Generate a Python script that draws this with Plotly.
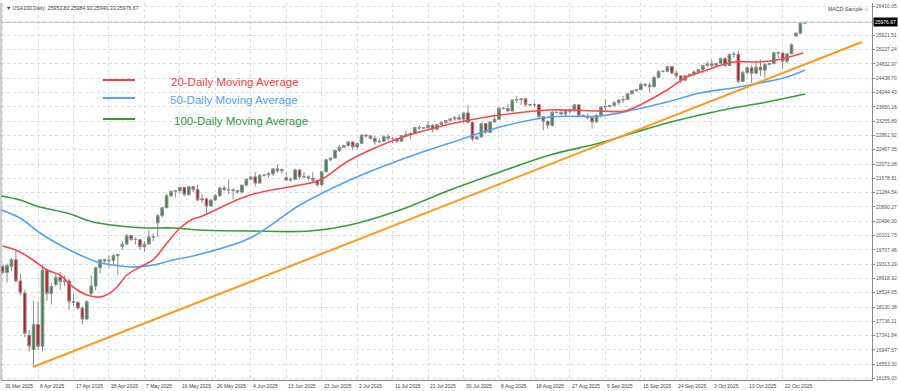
import pandas as pd
import plotly.graph_objects as go

# ---------------- data ----------------
# broker daily bars: weekdays plus short Sunday bars, no Good Friday bar
dates = [d for d in pd.date_range("2025-03-30", "2025-10-28")
         if d.weekday() != 5 and d != pd.Timestamp("2025-04-18")]

opens = [19250,19080,19250,19436,18850,18520,17350,16950,17650,17050,
         19145,18500,18750,18950,18830,18850,18280,18260,18100,17800,
         18500,18711,19213,19432,19400,19420,19545,19800,19864,20102,
         19990,19992,19792,19867,20064,20450,20650,20868,21197,21319,
         21336,21427,21230,21447,21367,21080,21112,20915,21080,21200,
         21413,21363,21364,21340,21300,21492,21655,21718,21547,21761,
         21770,21800,21941,21883,21700,21631,21650,21911,21719,21719,
         21680,21626,21500,21859,22191,22238,22447,22534,22580,22679,
         22541,22641,22867,22850,22780,22686,22701,22830,22781,22780,
         22700,22856,22884,22916,23077,23065,23070,23140,23033,23162,
         23219,23272,23320,23357,23308,23480,23218,22763,22820,23188,
         22946,23233,23306,23613,23600,23535,23839,23850,23871,23713,
         23700,23713,23384,23250,23142,23498,23490,23451,23526,23566,
         23704,23415,23400,23350,23232,23415,23648,23653,23690,23762,
         23839,23850,24007,24092,24120,24275,24251,24202,24454,24626,
         24630,24762,24580,24503,24385,24504,24550,24612,24680,24791,
         24836,24785,24850,24979,24788,25099,25098,24350,24600,24726,
         24578,24745,24661,24818,24840,25142,25134,24907,25110,25600,
         25680,25953.80]
highs = [19290,19330,19480,19720,19050,18600,17500,18300,18300,19300,
         19200,18800,19050,19100,19000,18900,18500,18280,18150,18320,
         19000,19250,19450,19460,19550,19600,19600,19950,20150,20110,
         20050,19995,19950,20250,20150,20700,20900,21250,21350,21350,
         21450,21430,21470,21460,21500,21250,21150,21100,21250,21450,
         21480,21650,21400,21350,21500,21680,21750,21850,21800,21790,
         21850,21950,22050,21950,21850,21700,21950,21920,21850,21760,
         21850,21640,21880,22220,22270,22470,22600,22600,22700,22700,
         22650,22900,22900,22860,22850,22780,22870,22900,22800,22790,
         22880,22990,22950,23100,23150,23090,23250,23170,23170,23240,
         23280,23330,23380,23450,23500,23700,23250,22850,23200,23200,
         23250,23450,23630,23640,23720,23850,23950,23890,23880,23730,
         23760,23720,23400,23280,23550,23520,23550,23550,23600,23720,
         23710,23440,23470,23400,23450,23650,23850,23700,23800,23850,
         23950,24030,24100,24130,24290,24300,24330,24500,24650,24650,
         24780,24790,24650,24510,24520,24560,24650,24700,24800,24900,
         24950,24860,25000,25020,25110,25170,25200,24650,24780,24800,
         24900,24950,24850,24860,25150,25180,25150,25120,25400,25700,
         25990,25984.93]
lows = [19050,18810,19120,18800,18450,17300,16900,16500,16950,16900,
        18300,18200,18700,18600,18700,18050,18150,18050,17650,17780,
        18450,18600,19050,19350,19200,19300,19000,19700,19850,19950,
        19850,19700,19650,19860,19950,20060,20600,20850,21150,21150,
        21250,21180,21200,21300,21050,21000,20700,20900,21050,21150,
        21330,21250,21100,21250,21250,21450,21650,21450,21540,21720,
        21700,21750,21820,21800,21600,21580,21640,21650,21680,21620,
        21550,21450,21450,21850,22150,22230,22400,22520,22550,22450,
        22480,22640,22800,22750,22600,22650,22690,22700,22650,22650,
        22680,22840,22750,22900,23020,23040,23060,22950,23000,23150,
        23170,23260,23270,23280,23200,23200,22700,22740,22800,22900,
        22920,23200,23300,23580,23500,23520,23750,23700,23650,23680,
        23640,23300,23000,23050,23100,23470,23420,23380,23450,23500,
        23380,23380,23300,23050,23220,23350,23550,23640,23650,23700,
        23750,23840,23990,24080,24110,24200,24050,24200,24450,24600,
        24600,24550,24450,24300,24350,24500,24500,24550,24570,24750,
        24700,24780,24830,24750,24780,25000,24300,24340,24550,24300,
        24550,24500,24450,24800,24830,25000,24700,24850,25100,25590,
        25650,25940.33]
closes = [19080,19278,19436,18850,18520,17400,17050,17650,17050,19145,
          18500,18700,18950,18830,18850,18280,18260,18100,17800,18276,
          18711,19213,19432,19400,19420,19545,19571,19864,20102,19990,
          19992,19792,19867,20064,20062,20650,20868,21197,21319,21336,
          21427,21230,21447,21367,21080,21112,20915,21080,21200,21413,
          21363,21364,21340,21300,21492,21655,21718,21547,21761,21770,
          21800,21941,21883,21914,21631,21650,21911,21719,21719,21680,
          21626,21500,21859,22191,22238,22447,22534,22580,22679,22541,
          22641,22867,22850,22780,22686,22701,22830,22781,22780,22700,
          22856,22884,22916,23077,23065,23070,23140,23033,23162,23219,
          23272,23320,23357,23308,23480,23218,22763,22820,23188,22946,
          23233,23306,23613,23600,23535,23839,23850,23871,23713,23700,
          23713,23384,23250,23142,23498,23490,23451,23526,23566,23704,
          23415,23400,23350,23232,23415,23648,23653,23690,23762,23839,
          23850,24007,24092,24120,24275,24251,24202,24454,24626,24630,
          24762,24580,24503,24385,24504,24550,24612,24680,24791,24836,
          24785,24850,24979,24788,25099,25098,24350,24600,24726,24578,
          24745,24661,24818,24840,25142,25134,24907,25110,25358,25680,
          25950,25976.67]

# moving averages (bar index, price)
ma20_idx = [0,2.35,3.93,6.86,10.02,12.95,15.88,19.04,21.98,24.23,25.81,28.07,31.0,33.94,37.09,40.03,42.96,44.54,
            55.82,67.1,71.62,78.38,89.67,100.95,105.46,112.23,123.51,134.79,140.43,143.82,149.91,154.42,158.93,164.8,
            170.21,174.72,180.6]
ma20_val = [19813,19730,19647,19427,19151,19013,18682,18462,18407,18517,18682,19013,19234,19427,19895,20309,20557,20612,
            21218,21494,21632,22183,22790,23176,23286,23424,23562,23534,23534,23700,24113,24472,24665,24885,
            24885,24940,25133]
ma50_idx = [-0.3,3.93,8.44,12.95,17.46,21.3,24.91,29.42,33.94,38.45,42.96,55.82,67.1,78.38,89.67,100.95,112.23,
            123.51,134.79,142.24,149.91,157.36,164.8,170.9,176.99,181.05]
ma50_val = [20805,20584,20171,19840,19564,19371,19289,19234,19289,19427,19537,20033,20943,21632,22183,22652,23093,
            23369,23397,23562,23782,24030,24168,24306,24472,24665]
ma100_idx = [-0.3,3.93,8.44,14.53,20.4,26.49,32.58,38.45,44.54,55.82,69.36,78.38,89.67,100.95,112.23,123.51,
             134.79,142.24,149.91,157.36,164.8,172.47,181.05]
ma100_val = [21191,21080,20887,20722,20474,20364,20309,20309,20253,20226,20226,20391,20805,21356,21853,22321,
             22652,22928,23203,23424,23617,23782,24003]

trend_idx = [6.86, 193.9]
trend_val = [16476, 25437]

x_labels = ["30 Mar 2025","8 Apr 2025","17 Apr 2025","28 Apr 2025","7 May 2025","16 May 2025",
            "26 May 2025","4 Jun 2025","13 Jun 2025","23 Jun 2025","2 Jul 2025","11 Jul 2025",
            "21 Jul 2025","30 Jul 2025","8 Aug 2025","18 Aug 2025","27 Aug 2025","5 Sep 2025",
            "15 Sep 2025","24 Sep 2025","3 Oct 2025","13 Oct 2025","22 Oct 2025"]
y_tick_start = 16159.03
y_tick_step = 394.27
y_tick_count = 27

legend_names = ["20-Daily Moving Average", "50-Daily Moving Average", "100-Daily Moving Average"]
legend_colors = ["#ff3b3b", "#4da3ff", "#2f9a35"]

# ---------------- figure ----------------
n = min(len(dates), len(opens), len(highs), len(lows), len(closes))
idx = list(range(n))
label_pos = {d.strftime("%-d %b %Y"): i for i, d in enumerate(dates[:n])}
x_tick_pos = [label_pos.get(t, 0) for t in x_labels]

fig = go.Figure()
fig.add_trace(go.Candlestick(
    x=idx, open=opens[:n], high=highs[:n], low=lows[:n], close=closes[:n],
    increasing=dict(line=dict(color="#8e8e8e", width=1), fillcolor="#3a8a48"),
    decreasing=dict(line=dict(color="#8e8e8e", width=1), fillcolor="#c4161c"),
    whiskerwidth=0, showlegend=False, hoverinfo="skip"))

fig.add_trace(go.Scatter(x=ma100_idx, y=ma100_val, mode="lines", line_shape="spline",
                         line=dict(color="#35a03a", width=1.6), showlegend=False))
fig.add_trace(go.Scatter(x=ma50_idx, y=ma50_val, mode="lines", line_shape="spline",
                         line=dict(color="#4da3ff", width=1.6), showlegend=False))
fig.add_trace(go.Scatter(x=ma20_idx, y=ma20_val, mode="lines", line_shape="spline",
                         line=dict(color="#ff4646", width=1.6), showlegend=False))
fig.add_trace(go.Scatter(x=trend_idx, y=trend_val, mode="lines",
                         line=dict(color="#ff9a1a", width=2), showlegend=False))

ytv = [y_tick_start + k * y_tick_step for k in range(y_tick_count)]
fig.update_layout(
    width=900, height=391, margin=dict(l=1, r=28, t=3, b=11, autoexpand=False),
    paper_bgcolor="white", plot_bgcolor="white", boxgap=0.15,
    font=dict(family="Liberation Sans, Arial", color="#333"),
    xaxis=dict(range=[-0.36, 196.16], tickvals=x_tick_pos, ticktext=[""] * len(x_labels),
               showgrid=True, gridcolor="#d6deea", griddash="dot", gridwidth=1,
               rangeslider=dict(visible=False), showline=True, linecolor="#8a8a8a",
               linewidth=1, mirror=False, zeroline=False, ticks="", automargin=False),
    yaxis=dict(range=[16118, 26512], side="right", tickvals=ytv,
               ticktext=[f"{v:.2f}" for v in ytv], tickfont=dict(size=5, color="#555"),
               showgrid=True, gridcolor="#d6deea", griddash="dot", gridwidth=1,
               showline=True, linecolor="#8a8a8a", linewidth=1, zeroline=False,
               ticks="outside", ticklen=2, tickcolor="#8a8a8a", automargin=False),
)
# left border
fig.add_shape(type="line", xref="paper", yref="paper", x0=0, x1=0, y0=0, y1=1,
              line=dict(color="#9a9a9a", width=1))
# bid line
fig.add_shape(type="line", xref="paper", yref="y", x0=0, x1=1, y0=closes[n - 1], y1=closes[n - 1],
              line=dict(color="#c8c8c8", width=1))
fig.add_annotation(xref="paper", yref="y", x=1, xshift=1, y=closes[n - 1], xanchor="left", yanchor="middle",
                   text=f"{closes[n - 1]:.2f}", showarrow=False, bgcolor="#000000",
                   font=dict(size=5, color="white"), borderpad=1)

# x labels
for t, p in zip(x_labels, x_tick_pos):
    fig.add_annotation(xref="x", yref="paper", x=p, y=0, yshift=-1, xanchor="left", yanchor="top",
                       text=t, showarrow=False, font=dict(size=5, color="#444"))

# header texts
fig.add_annotation(xref="paper", yref="paper", x=0.003, y=1, yshift=0, xanchor="left", yanchor="top",
                   text=f"▼ USA100,Daily  {opens[n-1]:.2f} {highs[n-1]:.2f} {lows[n-1]:.2f} {closes[n-1]:.2f}",
                   showarrow=False, font=dict(size=5.2, color="#444"))
fig.add_annotation(xref="paper", yref="paper", x=0.9985, y=1, yshift=-1, xanchor="right", yanchor="top",
                   text="MACD Sample ☺", showarrow=False, font=dict(size=5.2, color="#444"))

# custom legend
leg_line_y = [0.7958, 0.748, 0.6923]
leg_text_y = [0.7905, 0.7427, 0.687]
leg_text_x = [0.1929, 0.1917, 0.1963]
for name, col, ly, ty, tx in zip(legend_names, legend_colors, leg_line_y, leg_text_y, leg_text_x):
    fig.add_shape(type="line", xref="paper", yref="paper", x0=0.1171, x1=0.1538, y0=ly, y1=ly,
                  line=dict(color=col, width=2))
    fig.add_annotation(xref="paper", yref="paper", x=tx, y=ty,
                       xanchor="left", yanchor="middle", text=name, showarrow=False,
                       font=dict(size=11.5, color=col, family="Liberation Sans, Arial"))

fig.write_html("out.html", config={"displayModeBar": False},
               post_script="document.body.style.margin='0';document.body.style.overflow='hidden';")
